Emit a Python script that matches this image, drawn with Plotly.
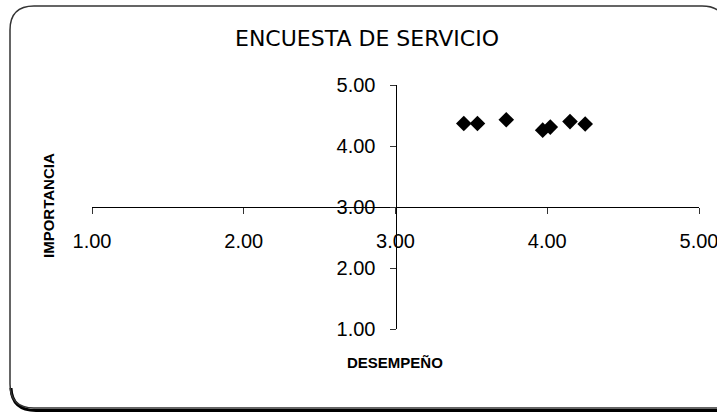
import plotly.graph_objects as go

# Survey results: performance (x) vs. importance (y)
desempeno = [3.45, 3.54, 3.73, 3.97, 4.02, 4.15, 4.25]
importancia = [4.37, 4.37, 4.43, 4.26, 4.31, 4.40, 4.36]

tick_vals = [1, 2, 3, 4, 5]
tick_text = ["1.00", "2.00", "3.00", "4.00", "5.00"]

W, H = 717, 413
ML, MR, MT, MB = 92, 18, 85, 84
PW, PH = W - ML - MR, H - MT - MB


def px(xp):
    return (xp - ML) / PW


def py(yp):
    return (H - MB - yp) / PH


fig = go.Figure()
fig.add_trace(go.Scatter(
    x=desempeno, y=importancia, mode="markers",
    marker=dict(symbol="diamond", size=12, color="#000000", line=dict(width=0)),
    hoverinfo="x+y", showlegend=False,
))

axis_common = dict(
    range=[1, 5], tickvals=tick_vals, ticktext=tick_text,
    showgrid=False, zeroline=False, showline=True, linecolor="#000000", linewidth=1,
    ticks="outside", ticklen=6, tickcolor="#333333", tickwidth=1,
    tickfont=dict(family="Liberation Sans, Arial, sans-serif", size=20, color="#000000"),
    anchor="free", position=0.5, automargin=False, fixedrange=True,
    ticklabeloverflow="allow",
)

fig.update_layout(
    width=W, height=H,
    margin=dict(l=ML, r=MR, t=MT, b=MB),
    paper_bgcolor="#ffffff", plot_bgcolor="rgba(0,0,0,0)",
    xaxis=dict(**axis_common, domain=[0, 1], ticklabelstandoff=10),
    yaxis=dict(**axis_common, domain=[0, 1], ticklabelstandoff=10),
)

# Rounded chart-area frame (right side runs past the page edge)
L, T, B, RAD = 10, 6, 408, 24
X_END = 726  # where the top edge starts curving down
frame = (
    f"M {px(L)},{py(B - RAD)} L {px(L)},{py(T + RAD)} "
    f"Q {px(L)},{py(T)} {px(L + RAD)},{py(T)} L {px(X_END - RAD)},{py(T)} "
    f"Q {px(X_END)},{py(T)} {px(X_END)},{py(T + RAD)} "
    f"M {px(L)},{py(B - RAD)} Q {px(L)},{py(B)} {px(L + RAD)},{py(B)} L {px(X_END)},{py(B)}"
)
shadow = (
    f"M {px(L + 1)},{py(B - RAD + 4)} Q {px(L + 2)},{py(B + 2.5)} {px(L + RAD + 2)},{py(B + 2.5)} "
    f"L {px(X_END)},{py(B + 2.5)}"
)
fig.add_shape(type="path", path=shadow, xref="paper", yref="paper",
              line=dict(color="#000000", width=3), layer="below")
fig.add_shape(type="path", path=frame, xref="paper", yref="paper",
              line=dict(color="#333333", width=1.5), layer="below")

fig.add_annotation(text="ENCUESTA DE SERVICIO", x=px(366.5), y=py(39), xref="paper", yref="paper",
                   showarrow=False, xanchor="center", yanchor="middle",
                   font=dict(family="DejaVu Sans, sans-serif", size=22, color="#000000"))
fig.add_annotation(text="<b>IMPORTANCIA</b>", x=px(48), y=py(206), xref="paper", yref="paper",
                   showarrow=False, textangle=-90, xanchor="center", yanchor="middle",
                   font=dict(family="Liberation Sans, Arial, sans-serif", size=15, color="#000000"))
fig.add_annotation(text="<b>DESEMPEÑO</b>", x=px(395), y=py(362), xref="paper", yref="paper",
                   showarrow=False, xanchor="center", yanchor="middle",
                   font=dict(family="Liberation Sans, Arial, sans-serif", size=15, color="#000000"))

fig.write_html("out.html", config={"displayModeBar": False})
